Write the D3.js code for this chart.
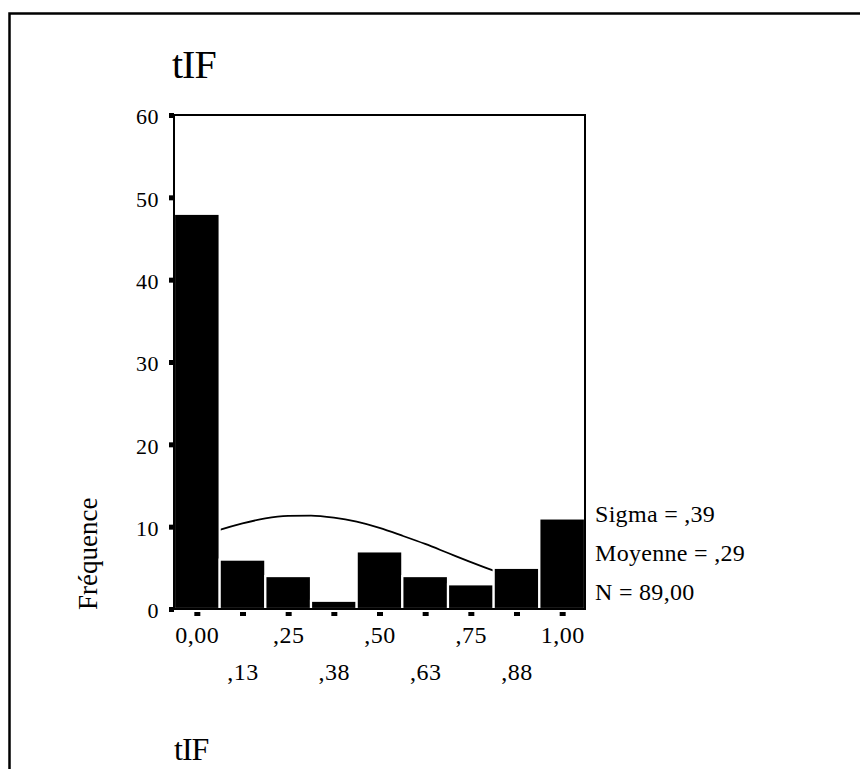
<!DOCTYPE html>
<html>
<head>
<meta charset="utf-8">
<script src="https://cdn.jsdelivr.net/npm/d3@7"></script>
<style>
  body { margin: 0; background: #fff; }
  text { font-family: "Liberation Serif", "Times New Roman", serif; fill: #000; }
</style>
</head>
<body>
<div id="chart-area"></div>
<script>
// histogram data (bin centres and counts)
var binCenters = [0, 0.125, 0.25, 0.375, 0.5, 0.625, 0.75, 0.875, 1]
var counts = [48, 6, 4, 1, 7, 4, 3, 5, 11]
var tickLabels = ['0,00', ',13', ',25', ',38', ',50', ',63', ',75', ',88', '1,00']
var yTicks = [0, 10, 20, 30, 40, 50, 60]

// normal curve, values
var curveX = [-0.0625, 0, 0.0625, 0.125, 0.1875, 0.25, 0.3125, 0.375, 0.4375, 0.5,
    0.5625, 0.625, 0.6875, 0.75, 0.8125, 0.875, 0.9375, 1, 1.0625]
var curveY = [7.6, 8.6, 9.6, 10.4, 11.0, 11.3, 11.35, 11.1, 10.6, 9.85,
    8.9, 7.9, 6.8, 5.7, 4.65, 3.7, 2.9, 2.2, 1.6]

var stats = ['Sigma = ,39', 'Moyenne = ,29', 'N = 89,00']

var W = 860, H = 769
var plot = { left: 174, top: 115, right: 585, bottom: 609 }
var binW = 0.125

var svg = d3.select('#chart-area')
    .append('svg')
        .attr('width', W)
        .attr('height', H)

// outer frame (top and left edges visible)
svg.append('path')
    .attr('d', `M9.5,${H} V13.5 H${W}`)
    .attr('fill', 'none')
    .attr('stroke', '#000')
    .attr('stroke-width', 2.5)

var x = d3.scaleLinear()
    .domain([-binW / 2, 1 + binW / 2])
    .range([plot.left, plot.right])

var y = d3.scaleLinear()
    .domain([0, 60])
    .range([plot.bottom, plot.top])

// title
svg.append('text')
    .attr('x', 172)
    .attr('y', 78)
    .attr('font-size', '40px')
    .attr('letter-spacing', '-1px')
    .text('tIF')

// normal curve (behind bars)
var line = d3.line()
    .x(d => x(d[0]))
    .y(d => y(d[1]))
    .curve(d3.curveMonotoneX)

svg.append('path')
    .datum(curveX.map((v, i) => [v, curveY[i]]))
    .attr('d', line)
    .attr('fill', 'none')
    .attr('stroke', '#000')
    .attr('stroke-width', 1.8)

// bars
svg.selectAll('rect.bar')
    .data(binCenters)
    .enter()
    .append('rect')
        .attr('class', 'bar')
        .attr('x', d => x(d - binW / 2))
        .attr('width', d => x(d + binW / 2) - x(d - binW / 2))
        .attr('y', (d, i) => y(counts[i]))
        .attr('height', (d, i) => y(0) - y(counts[i]))
        .attr('fill', '#000')
        .attr('stroke', '#fff')
        .attr('stroke-width', 2.2)

// plot frame
svg.append('rect')
    .attr('x', plot.left)
    .attr('y', plot.top)
    .attr('width', plot.right - plot.left)
    .attr('height', plot.bottom - plot.top)
    .attr('fill', 'none')
    .attr('stroke', '#000')
    .attr('stroke-width', 2)

// Y Axis
var yAxisGroup = svg.append('g')
    .attr('transform', `translate(${plot.left}, 0)`)
    .call(d3.axisLeft(y).tickValues(yTicks).tickSize(5).tickPadding(10))
yAxisGroup.select('.domain').remove()
yAxisGroup.selectAll('line').attr('stroke-width', 5)
yAxisGroup.selectAll('text')
    .attr('font-size', '22px')
    .attr('font-family', '"Liberation Serif", serif')
    .attr('letter-spacing', '0.5px')
    .attr('dy', '0.4em')

// X Axis
var xAxisGroup = svg.append('g')
    .attr('transform', `translate(0, ${plot.bottom})`)
    .call(d3.axisBottom(x).tickValues(binCenters).tickSize(7)
        .tickFormat((d, i) => tickLabels[i]))
xAxisGroup.select('.domain').remove()
xAxisGroup.selectAll('line')
    .attr('y1', 3)
    .attr('stroke-width', 6)
xAxisGroup.selectAll('text')
    .attr('font-size', '24px')
    .attr('font-family', '"Liberation Serif", serif')
    .attr('letter-spacing', '0.5px')
    .attr('dy', null)
    .attr('y', (d, i) => i % 2 === 0 ? 34 : 71)

// y label
svg.append('text')
    .attr('transform', 'translate(97, 610) rotate(-90)')
    .attr('font-size', '27px')
    .text('Fréquence')

// stats
svg.selectAll('text.stat')
    .data(stats)
    .enter()
    .append('text')
        .attr('class', 'stat')
        .attr('x', 595)
        .attr('y', (d, i) => 522 + i * 39)
        .attr('font-size', '24px')
        .attr('letter-spacing', '0.3px')
        .text(d => d)

// x label
svg.append('text')
    .attr('x', 174)
    .attr('y', 760)
    .attr('font-size', '32px')
    .attr('letter-spacing', '-1px')
    .text('tIF')
</script>
</body>
</html>
